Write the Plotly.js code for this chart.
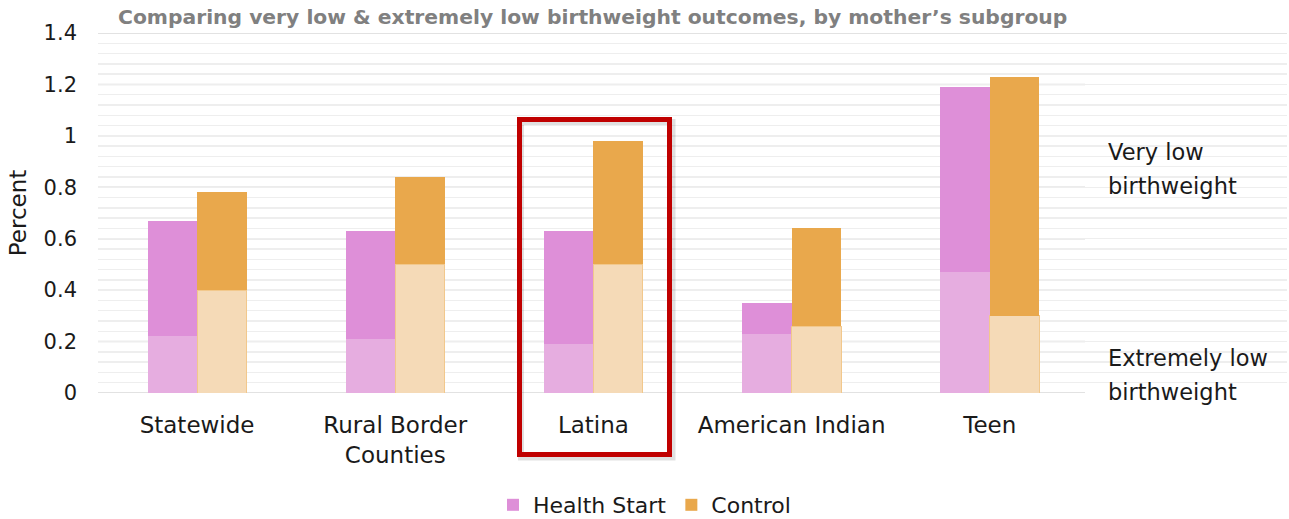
<!DOCTYPE html>
<html>
<head>
<meta charset="utf-8">
<script src="https://cdn.plot.ly/plotly-3.0.1.min.js"></script>
<style>html,body{margin:0;padding:0;background:#fff;}#chart{width:1289px;height:519px;}</style>
</head>
<body>
<div id="chart"></div>
<script>
// ---- data ----
var categories = ["Statewide", "Rural Border<br>Counties", "Latina", "American Indian", "Teen"];
var hsExtremelyLow = [0.22, 0.21, 0.19, 0.23, 0.47];
var hsVeryLow      = [0.45, 0.42, 0.44, 0.12, 0.72];   // segment above extremely low (totals 0.67,0.63,0.63,0.35,1.19)
var ctlExtremelyLow = [0.40, 0.50, 0.50, 0.26, 0.30];
var ctlVeryLow      = [0.38, 0.34, 0.48, 0.38, 0.93];  // totals 0.78,0.84,0.98,0.64,1.23
var yTicks = [0, 0.2, 0.4, 0.6, 0.8, 1, 1.2, 1.4];

var FONT = "DejaVu Sans";
var idx = categories.map(function(_, i){ return i; });
var xHS = idx.map(function(i){ return i - 0.125; });
var xCT = idx.map(function(i){ return i + 0.125; });

var traces = [
  {type:"bar", x:xHS, y:hsExtremelyLow, width:0.25, marker:{color:"#E6ADE0", line:{width:0}}, showlegend:false, name:"Health Start (extremely low)", hoverinfo:"y"},
  {type:"bar", x:xHS, y:hsVeryLow, width:0.25, marker:{color:"#DE8FD8", line:{width:0}}, name:"Health Start", hoverinfo:"y"},
  {type:"bar", x:xCT, y:ctlExtremelyLow, width:0.25, marker:{color:"#F5DAB7", line:{color:"#F2C88C", width:1}}, showlegend:false, name:"Control (extremely low)", hoverinfo:"y"},
  {type:"bar", x:xCT, y:ctlVeryLow, width:0.25, marker:{color:"#E9A84C", line:{width:0}}, name:"Control", hoverinfo:"y"}
];

var L = 98, R = 1287, T = 33, B = 393, W = 1289, H = 519;
function px2paperX(px){ return (px - L) / (R - L); }
function px2paperY(py){ return (B - py) / (B - T); }

var shapes = [];
yTicks.forEach(function(v){
  var full = (v === 1.4);
  shapes.push({type:"line", xref:"paper", yref:"y", x0:0, x1: full ? 1 : px2paperX(1085), y0:v, y1:v,
    line:{color:"#D9D9D9", width:1.5}, layer:"below"});
});
// soft drop shadow of highlight box
shapes.push({type:"rect", xref:"paper", yref:"paper", x0:px2paperX(521), x1:px2paperX(672.5), y0:px2paperY(457.5), y1:px2paperY(122),
  line:{color:"rgba(0,0,0,0.12)", width:6}, fillcolor:"rgba(0,0,0,0)", layer:"above"});
// highlight box around Latina
shapes.push({type:"rect", xref:"paper", yref:"paper", x0:px2paperX(519.5), x1:px2paperX(669.5), y0:px2paperY(454.5), y1:px2paperY(119.5),
  line:{color:"#C00000", width:5}, fillcolor:"rgba(0,0,0,0)", layer:"above"});

var annFont = {family:FONT, size:22.5, color:"#1a1a1a"};
var annotations = [
  {text:"Very low", x:px2paperX(1106), y:px2paperY(152)},
  {text:"birthweight", x:px2paperX(1106), y:px2paperY(186)},
  {text:"Extremely low", x:px2paperX(1106), y:px2paperY(358)},
  {text:"birthweight", x:px2paperX(1106), y:px2paperY(392)}
].map(function(a){
  return {text:a.text, xref:"paper", yref:"paper", x:a.x, y:a.y, xanchor:"left", yanchor:"middle", showarrow:false, font:annFont};
});

var layout = {
  width: W, height: H,
  margin: {l: L, r: W - R, t: T, b: H - B, pad: 0},
  paper_bgcolor: "#ffffff", plot_bgcolor: "#ffffff",
  barmode: "stack",
  bargap: 0,
  font: {family: FONT, color: "#1a1a1a"},
  title: {text: "Comparing very low &amp; extremely low birthweight outcomes, by mother’s subgroup",
    font: {family: FONT, size: 20.3, color: "#808080", weight: "bold"},
    xref: "container", yref: "container", x: 118 / W, xanchor: "left", y: 1 - 17 / H, yanchor: "middle"},
  xaxis: {range: [-0.5, 5.5], tickvals: idx, ticktext: categories, tickfont: {family: FONT, size: 23, color: "#1a1a1a"},
    showgrid: false, zeroline: false, showline: false, ticks: "", ticklabelstandoff: 16, fixedrange: true},
  yaxis: {range: [0, 1.4], tickvals: yTicks, tickfont: {family: FONT, size: 21, color: "#1a1a1a"},
    showgrid: false, zeroline: false, showline: false, ticks: "", ticklabelstandoff: 20,
    minor: {dtick: 0.04, tick0: 0, showgrid: true, gridcolor: "#EEEEEE", gridwidth: 1.5, ticks: ""},
    title: {text: "Percent", font: {family: FONT, size: 23, color: "#1a1a1a"}, standoff: 10}, fixedrange: true},
  legend: {orientation: "h", x: 0.5, xanchor: "center", xref: "container", y: 1 - 505 / H, yref: "container", yanchor: "middle",
    font: {family: FONT, size: 22, color: "#1a1a1a"}, traceorder: "normal", itemwidth: 30},
  shapes: shapes,
  annotations: annotations,
  hovermode: false
};

Plotly.newPlot("chart", traces, layout, {displayModeBar: false, staticPlot: true});
</script>
</body>
</html>
